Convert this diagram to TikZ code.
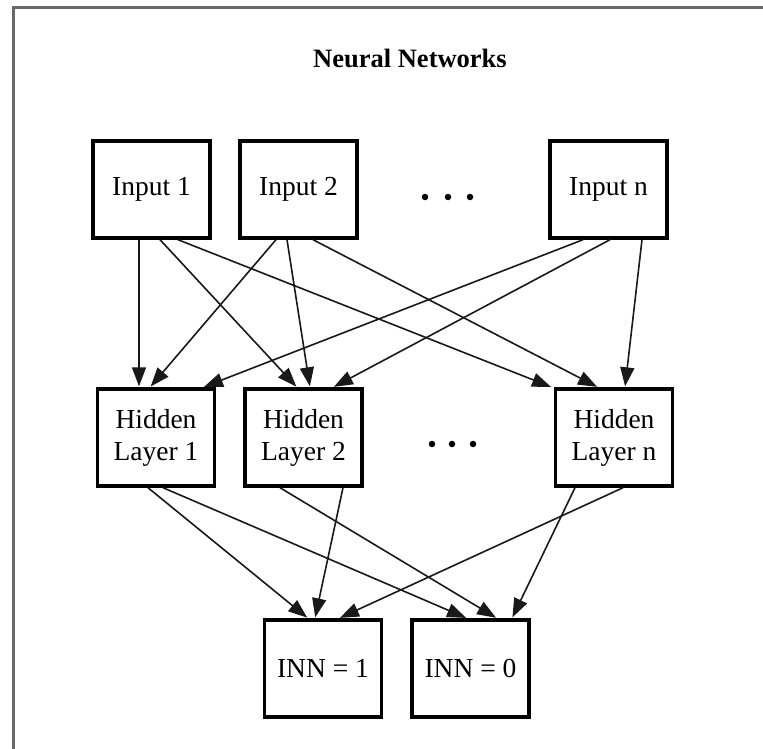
\documentclass[tikz,border=0pt]{standalone}
\usepackage{fontspec}
\setmainfont{Liberation Serif}
\usetikzlibrary{arrows.meta}
\definecolor{framegray}{RGB}{105,105,105}
\definecolor{edgegray}{RGB}{25,25,25}
\tikzset{
  box/.style={draw=black, line width=3.4pt, fill=white, minimum width=117pt, minimum height=97pt,
    inner sep=0pt, align=center, font=\fontsize{27.5}{32}\selectfont},
  conn/.style={draw=edgegray, line width=1.6pt, -{Triangle[length=19pt,width=14pt]}, shorten >=1pt},
  dotmark/.style={circle, fill=black, inner sep=0pt, minimum size=6.5pt},
}
\begin{document}
\begin{tikzpicture}[x=1pt,y=-1pt]
\useasboundingbox (0,0) rectangle (763,749);
\fill[white] (0,0) rectangle (763,749);
% frame
\draw[framegray, line width=3pt] (13,749) -- (13,8) -- (763,8);
% title
\node[font=\fontsize{26.5}{30}\selectfont\bfseries] (title) at (410,58) {Neural Networks};
% inputs
\node[box] (in1) at (151.5,189.5) {Input 1};
\node[box] (in2) at (298.5,189.5) {Input 2};
\node[box] (inn) at (608.5,189.5) {Input n};
% hidden
\node[box] (h1) at (156,437.5) {Hidden\\Layer 1};
\node[box] (h2) at (303.5,437.5) {Hidden\\Layer 2};
\node[box] (hn) at (614,437.5) {Hidden\\Layer n};
% outputs
\node[box] (o1) at (323,668.5) {INN = 1};
\node[box] (o0) at (470.5,668.5) {INN = 0};
% dots
\node[dotmark] (d1) at (425,197) {};
\node[dotmark] (d2) at (448,197) {};
\node[dotmark] (d3) at (470,197) {};
\node[dotmark] (e1) at (432,444) {};
\node[dotmark] (e2) at (452,444) {};
\node[dotmark] (e3) at (473,444) {};
% input -> hidden
\draw[conn] ([xshift=-12.5pt]in1.south) -- ([xshift=-17pt]h1.north);
\draw[conn] ([xshift=8.5pt]in1.south) -- ([xshift=-6.5pt]h2.north);
\draw[conn] ([xshift=26.5pt]in1.south) -- ([xshift=-62pt]hn.north);
\draw[conn] ([xshift=-22.5pt]in2.south) -- ([xshift=-6pt]h1.north);
\draw[conn] ([xshift=-11.5pt]in2.south) -- ([xshift=6.5pt]h2.north);
\draw[conn] ([xshift=14.5pt]in2.south) -- ([xshift=-16pt]hn.north);
\draw[conn] ([xshift=-25.5pt]inn.south) -- ([xshift=47pt]h1.north);
\draw[conn] ([xshift=1.5pt]inn.south) -- ([xshift=29.5pt]h2.north);
\draw[conn] ([xshift=33.5pt]inn.south) -- ([xshift=11pt]hn.north);
% hidden -> output
\draw[conn] ([xshift=-8pt]h1.south) -- ([xshift=-15pt]o1.north);
\draw[conn] ([xshift=7pt]h1.south) -- ([xshift=-3.5pt]o0.north);
\draw[conn] ([xshift=39.5pt]h2.south) -- ([xshift=-8pt]o1.north);
\draw[conn] ([xshift=-23.5pt]h2.south) -- ([xshift=26.5pt]o0.north);
\draw[conn] ([xshift=9pt]hn.south) -- ([xshift=16pt]o1.north);
\draw[conn] ([xshift=-39pt]hn.south) -- ([xshift=41.5pt]o0.north);
\end{tikzpicture}
\end{document}
